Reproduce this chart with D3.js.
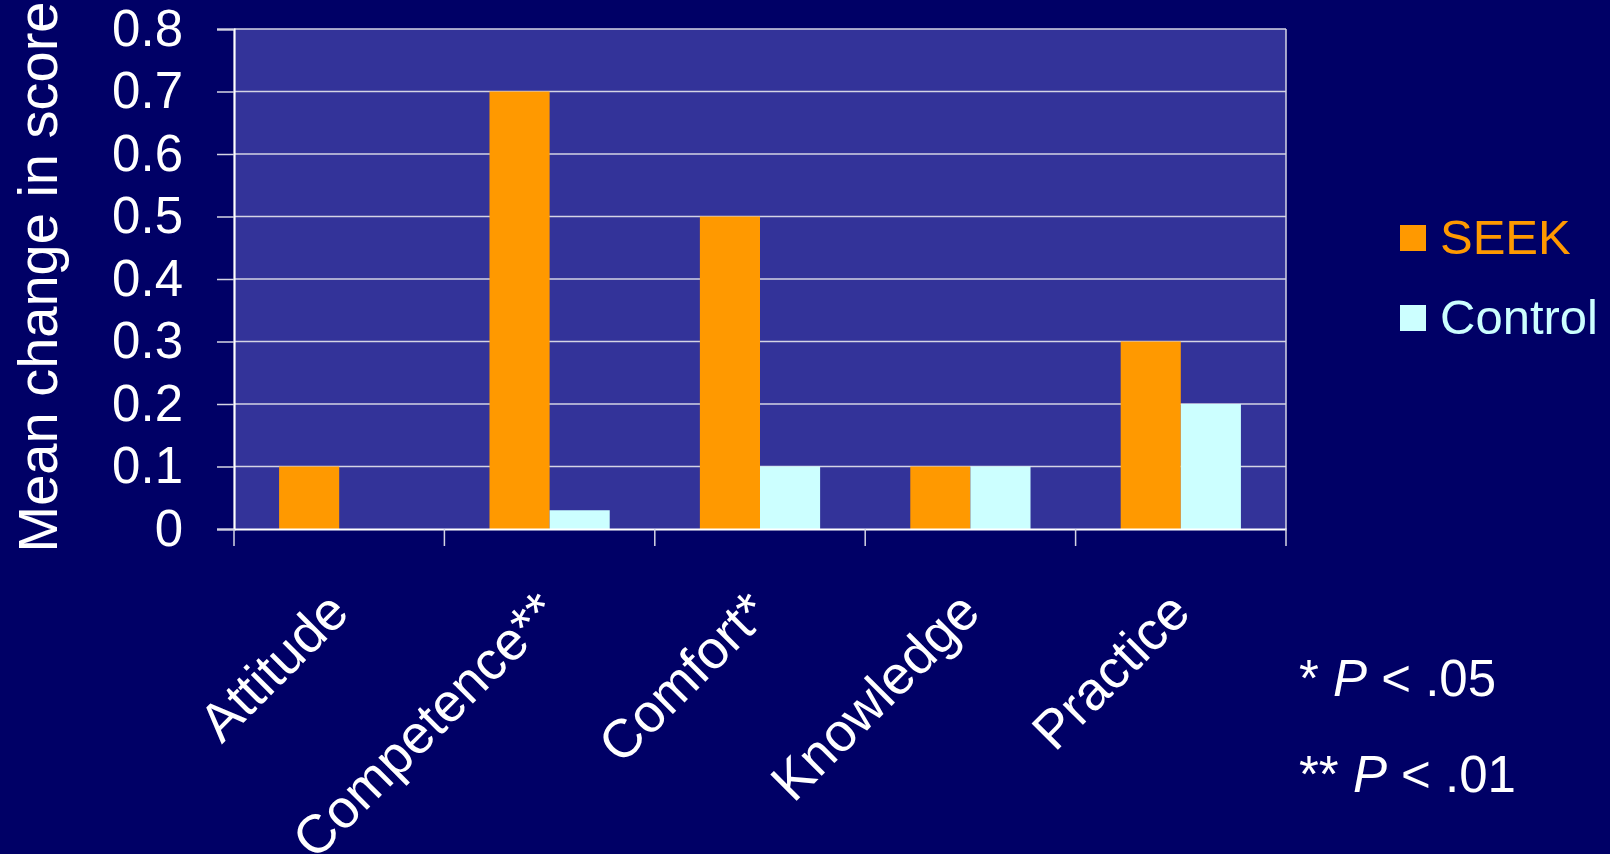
<!DOCTYPE html>
<html>
<head>
<meta charset="utf-8">
<script src="https://cdn.jsdelivr.net/npm/d3@7"></script>
<style>
  html, body { margin: 0; padding: 0; background: #000066; }
  svg { display: block; font-family: "Liberation Sans", Arial, sans-serif; }
</style>
</head>
<body>
<svg id="chart" width="1610" height="854"></svg>
<script>
// Mean change in score, SEEK vs. Control, by outcome domain
const categories = ["Attitude", "Competence**", "Comfort*", "Knowledge", "Practice"];
const seriesNames = ["SEEK", "Control"];
const seekValues = [0.1, 0.7, 0.5, 0.1, 0.3];
const controlValues = [0, 0.03, 0.1, 0.1, 0.2];
const yTicks = [0, 0.1, 0.2, 0.3, 0.4, 0.5, 0.6, 0.7, 0.8];
const seriesColors = ["#FF9900", "#CCFFFF"];

const svg = d3.select("#chart");
const W = 1610, H = 854;

svg.append("rect").attr("width", W).attr("height", H).attr("fill", "#000066");

const plot = { left: 234, right: 1286, top: 29, bottom: 529 };

const x = d3.scaleBand().domain(categories).range([plot.left, plot.right]).padding(0);
const xInner = d3.scaleBand().domain(seriesNames).range([0, x.bandwidth()])
  .paddingInner(0).paddingOuter(0.75);
const y = d3.scaleLinear().domain([0, 0.8]).range([plot.bottom, plot.top]);

// plot area
svg.append("rect")
  .attr("x", plot.left).attr("y", plot.top)
  .attr("width", plot.right - plot.left).attr("height", plot.bottom - plot.top)
  .attr("fill", "#333399");

// horizontal gridlines
svg.append("g").selectAll("line").data(yTicks.filter(d => d > 0)).join("line")
  .attr("x1", plot.left).attr("x2", plot.right)
  .attr("y1", d => y(d)).attr("y2", d => y(d))
  .attr("stroke", "#d4d4e4").attr("stroke-width", 1.3);

// right border of the plot area
svg.append("line")
  .attr("x1", plot.right).attr("x2", plot.right)
  .attr("y1", plot.top).attr("y2", plot.bottom)
  .attr("stroke", "#d4d4e4").attr("stroke-width", 1.5);

// bars
const rows = categories.map((c, i) => ({ cat: c, vals: [seekValues[i], controlValues[i]] }));
const groups = svg.append("g").selectAll("g").data(rows).join("g")
  .attr("transform", d => `translate(${x(d.cat)},0)`);
groups.selectAll("rect")
  .data(d => d.vals.map((v, j) => ({ name: seriesNames[j], v, color: seriesColors[j] })))
  .join("rect")
  .attr("x", d => xInner(d.name))
  .attr("width", xInner.bandwidth())
  .attr("y", d => y(d.v))
  .attr("height", d => y(0) - y(d.v))
  .attr("fill", d => d.color);

// y axis
const yAxis = svg.append("g")
  .attr("transform", `translate(${plot.left},0)`)
  .call(d3.axisLeft(y).tickValues(yTicks).tickFormat(d => d === 0 ? "0" : d3.format(".1f")(d))
    .tickSize(17).tickPadding(34));
yAxis.select(".domain").attr("stroke", "#ffffff").attr("stroke-width", 2.2);
yAxis.selectAll(".tick line").attr("stroke", "#d4d4e4").attr("stroke-width", 1.5);
yAxis.selectAll(".tick text")
  .attr("fill", "#ffffff").attr("font-size", 51)
  .attr("font-family", "'Liberation Sans', Arial, sans-serif")
  .attr("dy", "0.32em");

// x axis
const xAxis = svg.append("g")
  .attr("transform", `translate(0,${plot.bottom})`)
  .call(d3.axisBottom(x).tickSize(0).tickFormat(""));
xAxis.select(".domain").attr("stroke", "#ffffff").attr("stroke-width", 2.2);
xAxis.selectAll(".tick").remove();

// category boundary ticks below the axis
const bounds = categories.map(c => x(c)).concat([x(categories[categories.length - 1]) + x.bandwidth()]);
svg.append("g").selectAll("line").data(bounds).join("line")
  .attr("x1", d => d).attr("x2", d => d)
  .attr("y1", plot.bottom).attr("y2", plot.bottom + 17)
  .attr("stroke", "#d4d4e4").attr("stroke-width", 1.5);

// rotated category labels
svg.append("g").selectAll("text").data(categories).join("text")
  .attr("transform", d => `translate(${x(d) + x.bandwidth() / 2 + 12},${615}) rotate(-45)`)
  .attr("text-anchor", "end")
  .attr("fill", "#ffffff")
  .attr("font-size", 54)
  .text(d => d);

// y axis title
svg.append("text")
  .attr("transform", `translate(57,${277}) rotate(-90)`)
  .attr("text-anchor", "middle")
  .attr("fill", "#ffffff")
  .attr("font-size", 56)
  .text("Mean change in score");

// legend
const legend = svg.append("g").selectAll("g").data(seriesNames).join("g")
  .attr("transform", (d, i) => `translate(1400,${225 + i * 80})`);
legend.append("rect")
  .attr("width", 26).attr("height", 26)
  .attr("fill", (d, i) => seriesColors[i]);
legend.append("text")
  .attr("x", 40).attr("y", 29)
  .attr("fill", (d, i) => seriesColors[i])
  .attr("font-size", 49)
  .text(d => d);

// significance footnotes
const notes = [
  { stars: "*", p: "P", rest: " < .05" },
  { stars: "**", p: "P", rest: " < .01" }
];
const noteText = svg.append("g").selectAll("text").data(notes).join("text")
  .attr("x", 1299).attr("y", (d, i) => 696 + i * 96)
  .attr("fill", "#ffffff").attr("font-size", 51);
noteText.append("tspan").text(d => d.stars + " ");
noteText.append("tspan").attr("font-style", "italic").text(d => d.p);
noteText.append("tspan").text(d => d.rest);
</script>
</body>
</html>
